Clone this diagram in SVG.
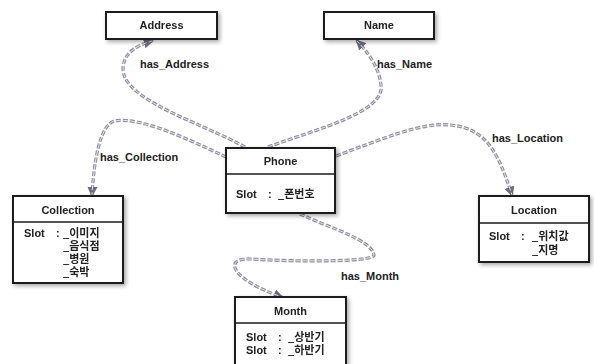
<svg xmlns="http://www.w3.org/2000/svg" width="594" height="364" viewBox="0 0 594 364">
<style>
.box{fill:#fff;stroke:#1a1a1a;stroke-width:2}
.div{stroke:#1a1a1a;stroke-width:1.5}
.t{font-family:"Liberation Sans","Noto Sans CJK KR",sans-serif;font-weight:bold;font-size:11px;fill:#222}
.k{font-family:"Noto Sans CJK KR",sans-serif;font-weight:bold;font-size:11px;fill:#222}
.c{text-anchor:middle}
.e{fill:none;stroke:#8e8e9e;stroke-width:3.2;stroke-dasharray:5 2}
.ei{fill:none;stroke:#e4e4ea;stroke-width:1;stroke-dasharray:5 2}
.lbl{font-family:"Liberation Sans","Noto Sans CJK KR",sans-serif;font-weight:bold;font-size:11px;fill:#222}
</style>
<defs>
<marker id="arr" viewBox="0 0 10 10" refX="8" refY="5" markerWidth="3.2" markerHeight="3.2" orient="auto">
<path d="M0,0 L10,5 L0,10 z" fill="#6a6a80"/>
</marker>
<filter id="sh" x="-10%" y="-10%" width="130%" height="140%">
<feGaussianBlur in="SourceAlpha" stdDeviation="2"/>
<feOffset dx="2" dy="2" result="b"/>
<feComponentTransfer><feFuncA type="linear" slope="0.35"/></feComponentTransfer>
<feMerge><feMergeNode/><feMergeNode in="SourceGraphic"/></feMerge>
</filter>
</defs>
<rect width="594" height="364" fill="#fff"/>
<g id="connectors">
<path class="e" marker-end="url(#arr)" d="M245,147 C200,122 122,100 123,68 C124,52 138,45 152,41"/>
<path class="ei" d="M245,147 C200,122 122,100 123,68 C124,52 138,45 152,41"/>
<path class="e" marker-end="url(#arr)" d="M226,157 C190,140 140,116 114,121 C100,126 94,160 92,195"/>
<path class="ei" d="M226,157 C190,140 140,116 114,121 C100,126 94,160 92,195"/>
<path class="e" marker-end="url(#arr)" d="M268,147 C320,128 385,112 381,85 C379,66 366,50 357,41"/>
<path class="ei" d="M268,147 C320,128 385,112 381,85 C379,66 366,50 357,41"/>
<path class="e" marker-end="url(#arr)" d="M336,156 C380,140 420,122 450,125 C490,128 500,160 512,195"/>
<path class="ei" d="M336,156 C380,140 420,122 450,125 C490,128 500,160 512,195"/>
<path class="e" marker-end="url(#arr)" d="M300,214 C330,228 372,240 374,255 C375,262 300,262 250,259 C222,258 232,280 282,297"/>
<path class="ei" d="M300,214 C330,228 372,240 374,255 C375,262 300,262 250,259 C222,258 232,280 282,297"/>
<text class="lbl" x="140" y="68">has_Address</text>
<text class="lbl" x="100" y="161">has_Collection</text>
<text class="lbl" x="377" y="68">has_Name</text>
<text class="lbl" x="492" y="142">has_Location</text>
<text class="lbl" x="341" y="280">has_Month</text>
</g>
<g id="address" filter="url(#sh)">
<rect class="box" x="106" y="12" width="111" height="27"/>
<text class="t c" x="161.5" y="29">Address</text>
</g>
<g id="name" filter="url(#sh)">
<rect class="box" x="324" y="12" width="110" height="27"/>
<text class="t c" x="379" y="29">Name</text>
</g>
<g id="phone" filter="url(#sh)">
<rect class="box" x="226" y="148" width="109" height="65"/>
<line class="div" x1="226" y1="174" x2="335" y2="174"/>
<text class="t c" x="280.5" y="165">Phone</text>
<text class="t" x="236" y="198">Slot</text>
<text class="t" x="268" y="198">:</text>
<text class="k" x="278" y="198">_폰번호</text>
</g>
<g id="collection" filter="url(#sh)">
<rect class="box" x="13" y="196" width="110" height="87"/>
<line class="div" x1="13" y1="222" x2="123" y2="222"/>
<text class="t c" x="68" y="214">Collection</text>
<text class="t" x="24" y="237">Slot</text>
<text class="t" x="56" y="237">:</text>
<text class="k"><tspan x="63" y="237">_이미지</tspan><tspan x="63" y="250">_음식점</tspan><tspan x="63" y="263">_병원</tspan><tspan x="63" y="276">_숙박</tspan></text>
</g>
<g id="location" filter="url(#sh)">
<rect class="box" x="479" y="196" width="110" height="66"/>
<line class="div" x1="479" y1="223" x2="589" y2="223"/>
<text class="t c" x="534" y="214">Location</text>
<text class="t" x="489" y="240">Slot</text>
<text class="t" x="521" y="240">:</text>
<text class="k"><tspan x="532" y="240">_위치값</tspan><tspan x="532" y="254">_지명</tspan></text>
</g>
<g id="month" filter="url(#sh)">
<rect class="box" x="235" y="297" width="111" height="72"/>
<line class="div" x1="235" y1="323" x2="346" y2="323"/>
<text class="t c" x="290.5" y="315">Month</text>
<text class="t"><tspan x="246" y="341">Slot</tspan><tspan x="246" y="354">Slot</tspan></text>
<text class="t"><tspan x="278" y="341">:</tspan><tspan x="278" y="354">:</tspan></text>
<text class="k"><tspan x="288" y="341">_상반기</tspan><tspan x="288" y="354">_하반기</tspan></text>
</g>
</svg>
